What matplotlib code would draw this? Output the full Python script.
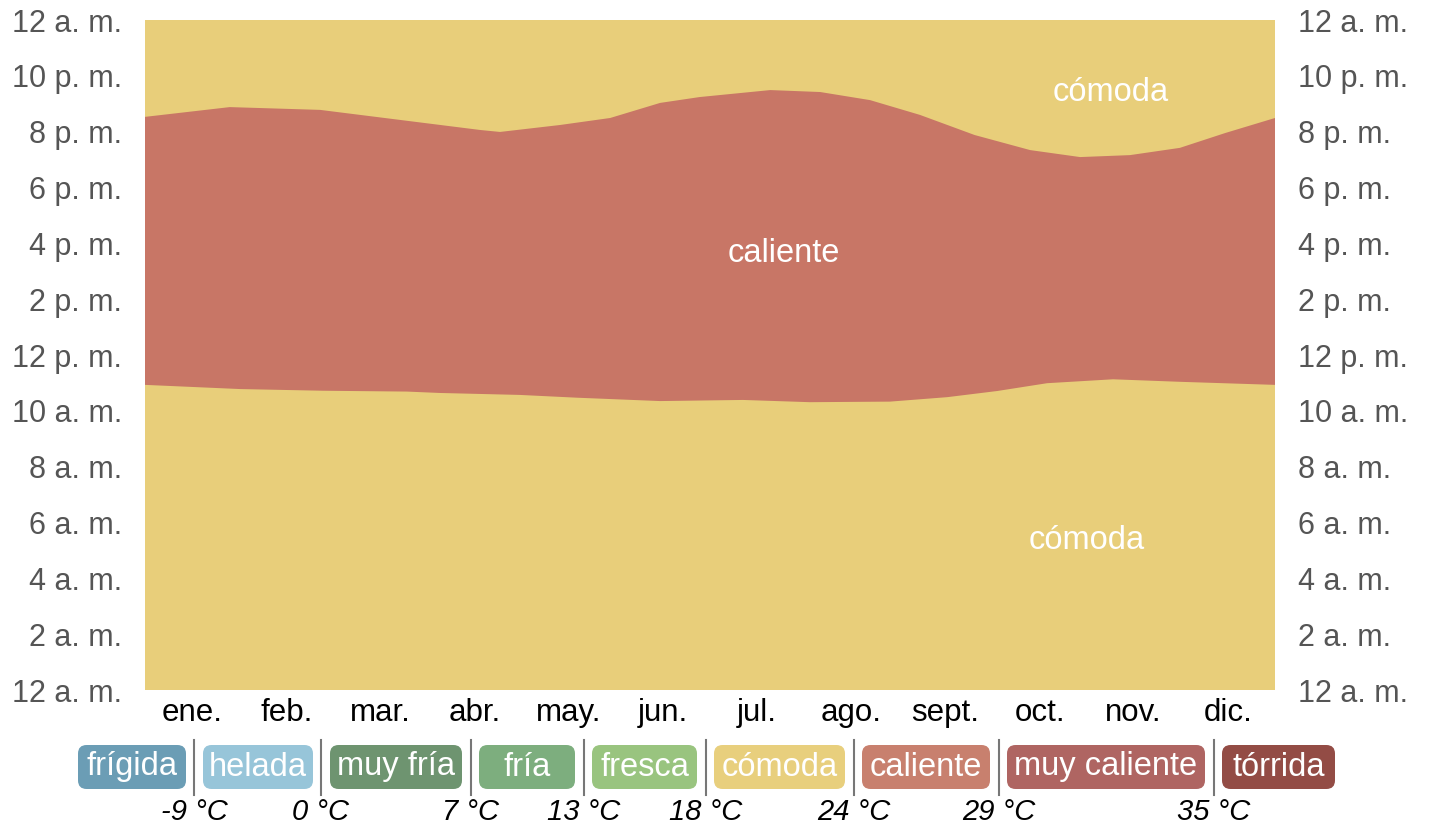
import matplotlib
matplotlib.use("Agg")
import matplotlib.pyplot as plt
from matplotlib.patches import FancyBboxPatch
import numpy as np

plt.rcParams['font.family'] = ['Liberation Sans', 'DejaVu Sans']

# --- data -------------------------------------------------------------
months = ["ene.", "feb.", "mar.", "abr.", "may.", "jun.", "jul.", "ago.",
          "sept.", "oct.", "nov.", "dic."]
hour_labels = ["12 a. m.", "2 a. m.", "4 a. m.", "6 a. m.", "8 a. m.", "10 a. m.",
               "12 p. m.", "2 p. m.", "4 p. m.", "6 p. m.", "8 p. m.", "10 p. m.",
               "12 a. m."]
# upper boundary of the "caliente" band (month position, hour of day)
upper_m = [0.0, 0.90, 1.86, 2.71, 3.56, 3.77, 4.41, 4.94, 5.47, 5.89, 6.64,
           7.17, 7.70, 8.23, 8.81, 9.40, 9.93, 10.46, 10.99, 11.47, 12.0]
upper_h = [20.53, 20.88, 20.78, 20.42, 20.06, 19.99, 20.24, 20.49, 21.03, 21.24,
           21.49, 21.42, 21.13, 20.60, 19.88, 19.34, 19.09, 19.16, 19.42, 19.95,
           20.49]
# lower boundary of the "caliente" band
lower_m = [0.0, 1.01, 1.89, 2.78, 3.13, 3.98, 4.59, 5.47, 6.35, 7.06, 7.91,
           8.52, 9.05, 9.58, 10.28, 10.99, 12.0]
lower_h = [10.93, 10.78, 10.72, 10.69, 10.64, 10.57, 10.47, 10.35, 10.39, 10.31,
           10.33, 10.49, 10.71, 10.99, 11.13, 11.04, 10.93]

legend_names = ["frígida", "helada", "muy fría", "fría", "fresca", "cómoda",
                "caliente", "muy caliente", "tórrida"]
legend_colors = ["#6B9DB5", "#97C5D9", "#6E9470", "#7DAE7E", "#99C47F",
                 "#E8CF7D", "#C8806E", "#AF6562", "#934C45"]
thresholds = ["-9 °C", "0 °C", "7 °C", "13 °C", "18 °C", "24 °C", "29 °C", "35 °C"]

COMODA = "#E8CE7A"
CALIENTE = "#C87666"

# --- figure -----------------------------------------------------------
W, H = 1434, 827
fig = plt.figure(figsize=(W / 100, H / 100), dpi=100)
ax = fig.add_axes([145 / W, 1 - 690 / H, (1275 - 145) / W, (690 - 20) / H])
ax.set_xlim(0, 12)
ax.set_ylim(0, 24)
ax.set_facecolor(COMODA)
for s in ax.spines.values():
    s.set_visible(False)

poly_x = list(lower_m) + list(upper_m[::-1])
poly_y = list(lower_h) + list(upper_h[::-1])
ax.fill(poly_x, poly_y, color=CALIENTE, lw=0)

ax.text(6.78, 15.62, "caliente", color="white", fontsize=23.5, ha="center", va="center")
ax.text(10.25, 21.42, "cómoda", color="white", fontsize=23.5, ha="center", va="center")
ax.text(10.0, 5.34, "cómoda", color="white", fontsize=23.5, ha="center", va="center")

ax.set_yticks(np.arange(0, 25, 2))
ax.set_yticklabels(hour_labels)
ax.tick_params(axis="y", which="major", length=0, pad=16.5, labelsize=22,
               labelcolor="#555555", left=False, right=False,
               labelleft=True, labelright=True)
ax.set_xticks(np.arange(12) + 0.5)
ax.set_xticklabels(months)
ax.tick_params(axis="x", length=0, pad=6, labelsize=22.5, labelcolor="black")

# --- legend -----------------------------------------------------------
boxes = [(78, 186), (203, 313), (330, 462), (479, 575), (592, 697),
         (714, 845), (862, 990), (1007, 1205), (1222, 1335)]
seps = [194, 321, 471, 584, 706, 854, 999, 1214]
by0, by1 = 745, 789
for (x0, x1), name, col in zip(boxes, legend_names, legend_colors):
    p = FancyBboxPatch((x0 / W, 1 - by1 / H), (x1 - x0) / W, (by1 - by0) / H,
                       boxstyle="round,pad=0,rounding_size=0.006",
                       transform=fig.transFigure, facecolor=col, edgecolor="none",
                       mutation_aspect=W / H)
    fig.add_artist(p)
    fig.text((x0 + x1) / 2 / W, 1 - (by0 + by1) / 2 / H, name, color="white",
             fontsize=23.5, ha="center", va="center")
for sx, t in zip(seps, thresholds):
    fig.add_artist(plt.Line2D([sx / W, sx / W], [1 - 740 / H, 1 - 795 / H],
                              transform=fig.transFigure, color="#777777", lw=1.5))
    fig.text(sx / W, 1 - 812 / H, t, color="black", fontsize=21,
             style="italic", ha="center", va="center")

fig.savefig("out.png", dpi=100)
